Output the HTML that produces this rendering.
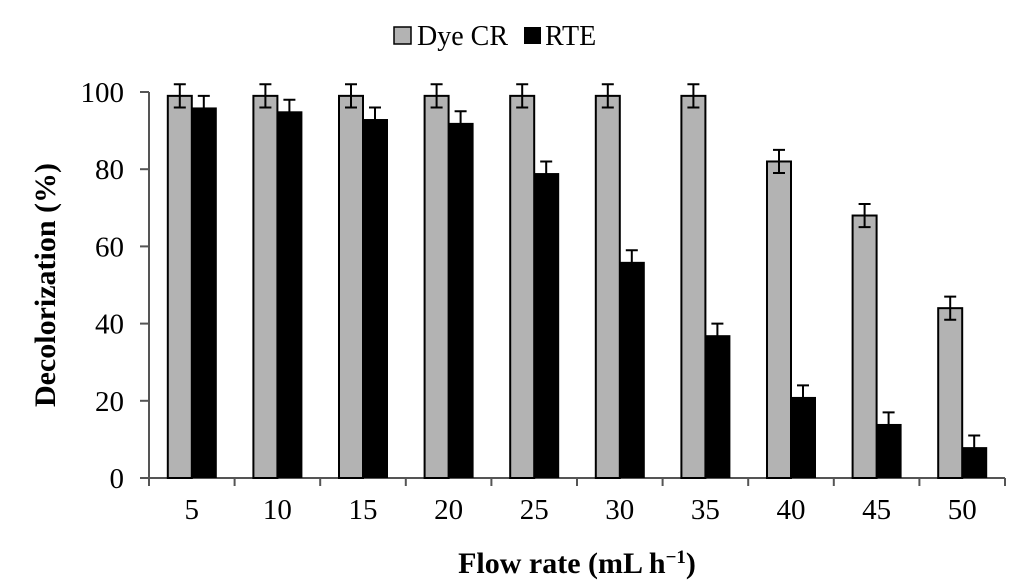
<!DOCTYPE html>
<html><head><meta charset="utf-8"><style>
body{margin:0;background:#fff}
svg{display:block;font-family:"Liberation Serif",serif}
</style></head><body>
<svg id="c" width="1024" height="582">
<g>
<rect x="394" y="27" width="17" height="17" fill="#b3b3b3" stroke="#000" stroke-width="1.5"/>
<text x="417" y="45" font-size="28">Dye CR</text>
<rect x="524" y="27" width="17" height="17" fill="#000"/>
<text x="545" y="45" font-size="28">RTE</text>
</g>
<text transform="translate(55,285) rotate(-90)" text-anchor="middle" font-size="30" font-weight="bold">Decolorization (%)</text>
<text x="577" y="573" text-anchor="middle" font-size="30" font-weight="bold">Flow rate (mL h<tspan baseline-shift="super" font-size="19">−1</tspan>)</text>
<g id="plot"></g>
</svg>
<script>
const categories=["5","10","15","20","25","30","35","40","45","50"];
const dyeCR=[99,99,99,99,99,99,99,82,68,44];
const rte=[96,95,93,92,79,56,37,21,14,8];
const dyeErr=[3,3,3,3,3,3,3,3,3,3];
const rteErr=[3,3,3,3,3,3,3,3,3,3];
const yTicks=[0,20,40,60,80,100];
const x0=149,x1=1005,y0=478,yTop=92;
const cw=(x1-x0)/categories.length;
const y=v=>y0-(v/100)*(y0-yTop);
const ns="http://www.w3.org/2000/svg";
const g=document.getElementById('plot');
function mk(t,a){const e=document.createElementNS(ns,t);for(const k in a)e.setAttribute(k,a[k]);g.appendChild(e);return e;}
let ax=mk('path',{d:`M${x0},${yTop} V${y0} H${x1}`,stroke:'#555',fill:'none','stroke-width':2});


yTicks.forEach(t=>{
 const l=mk('line',{x1:x0-9,x2:x0,y1:y(t),y2:y(t),stroke:'#555','stroke-width':2});
 
 
 const tx=mk('text',{x:x0-25,y:y(t)+10,'text-anchor':'end','font-size':29});
 tx.textContent=t;
 
 
});
for(let i=0;i<=categories.length;i++){
 const l=mk('line',{x1:x0+i*cw,x2:x0+i*cw,y1:y0,y2:y0+8,stroke:'#555','stroke-width':2});
 
 
}
const bw=24;
function err(cx,v,e){
 const p=mk('path',{d:`M${cx},${y(v+e)} V${y(v-e)} M${cx-6},${y(v+e)} H${cx+6} M${cx-6},${y(v-e)} H${cx+6}`,stroke:'#000','stroke-width':2,fill:'none'});
 
 
}
categories.forEach((c,i)=>{
 const cx=x0+i*cw+cw/2;
 const a=mk('rect',{x:cx-bw,y:y(dyeCR[i]),width:bw,height:y0-y(dyeCR[i]),fill:'#b3b3b3',stroke:'#000','stroke-width':2});
 
 
 const b=mk('rect',{x:cx,y:y(rte[i]),width:bw+1,height:y0-y(rte[i]),fill:'#000'});
 
 
 err(cx-bw/2,dyeCR[i],dyeErr[i]);
 err(cx+bw/2,rte[i],rteErr[i]);
 const t=mk('text',{x:cx,y:y0+41,'text-anchor':'middle','font-size':29});
 t.textContent=c;
 
 
});
</script>
</body></html>
